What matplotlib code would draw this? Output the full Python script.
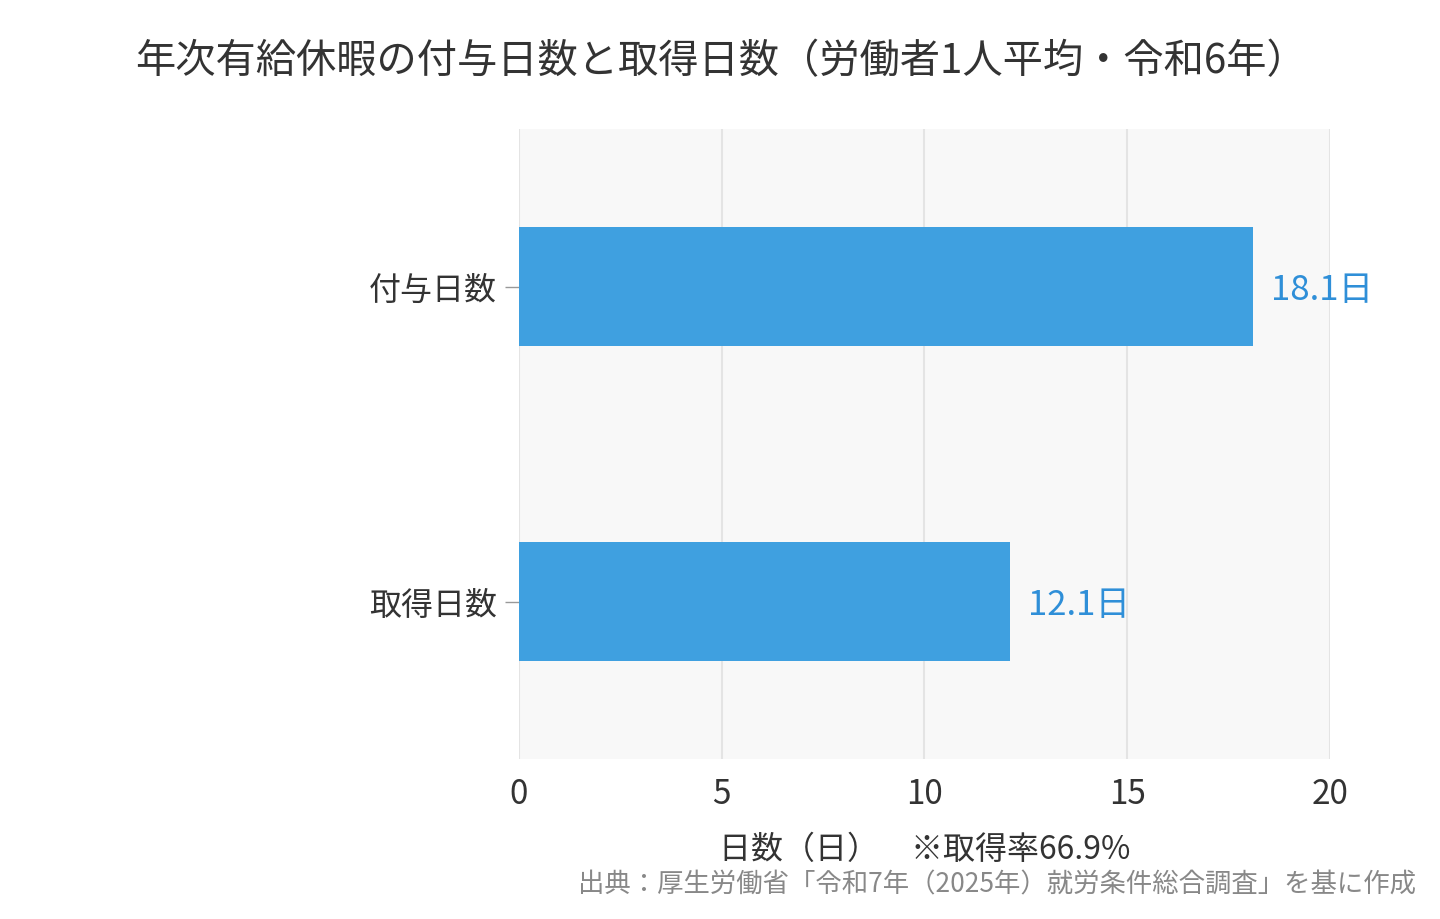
import matplotlib
matplotlib.use("Agg")
import matplotlib.pyplot as plt

plt.rcParams['font.family'] = ['Noto Sans CJK JP', 'DejaVu Sans']

categories = ['付与日数', '取得日数']
days = [18.1, 12.1]
value_labels = ['18.1日', '12.1日']
x_ticks = [0, 5, 10, 15, 20]

title = '年次有給休暇の付与日数と取得日数（労働者1人平均・令和6年）'
xlabel = '日数（日）　※取得率66.9%'
source = '出典：厚生労働省「令和7年（2025年）就労条件総合調査」を基に作成'

bar_color = '#3fa0e0'
label_color = '#2f8fd8'

fig = plt.figure(figsize=(14.4, 9.2), dpi=100)
ax = fig.add_axes([0.3604, 0.1739, 0.5632, 0.6848])
ax.set_facecolor('#f8f8f8')

ypos = list(range(len(categories)))
ax.barh(ypos, days, height=0.38, color=bar_color, zorder=3)
for y, v, lab in zip(ypos, days, value_labels):
    ax.text(v + 0.45, y + 0.01, lab, va='center', ha='left', fontsize=25, color=label_color)

ax.set_xlim(0, 20)
ax.set_ylim(1.5, -0.5)
ax.set_xticks(x_ticks)
ax.set_xticklabels([str(t) for t in x_ticks])
ax.set_yticks(ypos)
ax.set_yticklabels(categories)
ax.grid(axis='x', color='#e4e4e4', linewidth=1.5, zorder=0)
for s in ax.spines.values():
    s.set_visible(False)
ax.tick_params(axis='x', length=0, labelsize=24, colors='#333333', pad=12)
ax.tick_params(axis='y', length=10, width=1, color='#999999', labelsize=23,
               labelcolor='#333333', pad=6)
ax.set_xlabel(xlabel, fontsize=23, color='#333333', labelpad=16)

fig.text(0.094, 0.933, title, fontsize=29, color='#333333', ha='left', va='center')
fig.text(0.983, 0.038, source, fontsize=19, color='#888888', ha='right', va='center')

fig.savefig('out.png', dpi=100)
